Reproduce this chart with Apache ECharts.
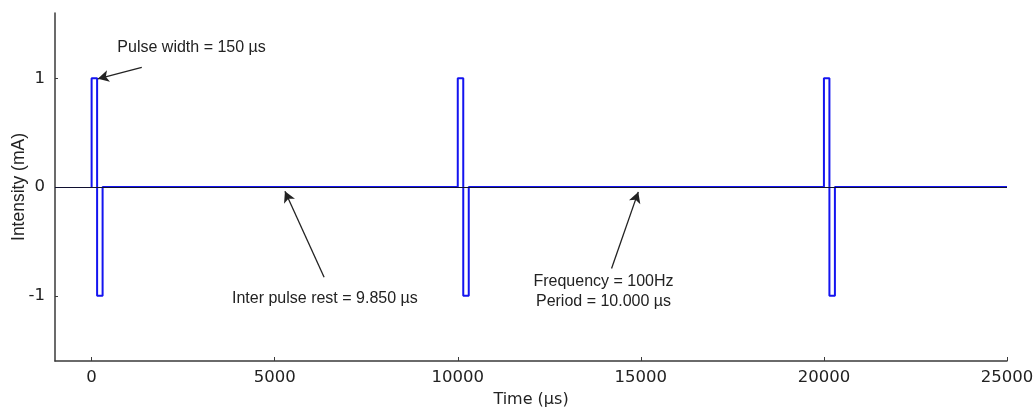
<!DOCTYPE html>
<html>
<head>
<meta charset="utf-8">
<script src="https://cdn.jsdelivr.net/npm/echarts@6/dist/echarts.min.js"></script>
<style>
  html, body { margin: 0; padding: 0; background: #fff; }
  #chart { width: 1035px; height: 409px; }
</style>
</head>
<body>
<div id="chart"></div>
<script>
// biphasic pulse train
var timeUs = [0, 0, 150, 150, 300, 300,
              10000, 10000, 10150, 10150, 10300, 10300,
              20000, 20000, 20150, 20150, 20300, 20300,
              25000];
var intensity = [0, 1, 1, -1, -1, 0,
                 0, 1, 1, -1, -1, 0,
                 0, 1, 1, -1, -1, 0,
                 0];
var xTicks = [0, 5000, 10000, 15000, 20000, 25000];
var yTicks = [-1, 0, 1];

// annotations: [text, x, y]  (data coords)
var notes = [
  ["Pulse width = 150 µs", 2730, 1.28],
  ["Inter pulse rest = 9.850 µs", 6370, -1.025],
  ["Frequency = 100Hz\nPeriod = 10.000 µs", 13980, -0.965]
];
// arrows: [fromX, fromY, toX, toY]
var arrows = [
  [1370, 1.1, 170, 0.995],
  [6350, -0.83, 5280, -0.04],
  [14200, -0.75, 14930, -0.045]
];

var chart = echarts.init(document.getElementById("chart"));

var points = timeUs.map(function (t, i) { return [t, intensity[i]]; });

var axisCol = "#3a3a3a";
var txtCol = "#222";

var option = {
  backgroundColor: "#fff",
  animation: false,
  grid: { left: 55, right: 28, top: 13, bottom: 48, outerBoundsMode: "none", containLabel: false },
  xAxis: {
    type: "value",
    min: -1000,
    max: 25000,
    name: "Time (µs)",
    nameLocation: "middle",
    nameGap: 31,
    nameMoveOverlap: false,
    nameTextStyle: { fontFamily: "DejaVu Sans", fontSize: 16, color: txtCol },
    axisLine: { show: true, onZero: false, lineStyle: { color: axisCol, width: 1.5 } },
    axisTick: {
      show: true, inside: true, length: 4,
      customValues: xTicks,
      lineStyle: { color: axisCol }
    },
    axisLabel: {
      customValues: xTicks,
      formatter: function (v) { return String(v); },
      fontFamily: "DejaVu Sans", fontSize: 16.5, color: txtCol, margin: 8
    },
    splitLine: { show: false }
  },
  yAxis: {
    type: "value",
    min: -1.6,
    max: 1.6,
    name: "Intensity (mA)",
    nameLocation: "middle",
    nameGap: 27,
    nameMoveOverlap: false,
    nameTextStyle: { fontFamily: "Liberation Sans", fontSize: 17.5, color: txtCol },
    axisLine: { show: true, onZero: false, lineStyle: { color: axisCol, width: 1.5 } },
    axisTick: {
      show: true, inside: true, length: 3,
      customValues: yTicks,
      lineStyle: { color: axisCol }
    },
    axisLabel: {
      customValues: yTicks,
      formatter: function (v) { return String(v); },
      fontFamily: "DejaVu Sans", fontSize: 16.5, color: txtCol, margin: 10
    },
    splitLine: { show: false }
  },
  series: [
    {
      type: "line",
      data: points,
      symbol: "none",
      lineStyle: { color: "#1414f0", width: 2 },
      z: 2,
      markLine: {
        silent: true,
        symbol: "none",
        label: { show: false },
        lineStyle: { color: "#101030", width: 1, type: "solid" },
        data: [{ yAxis: 0 }],
        z: 3
      }
    },
    {
      type: "line",
      data: [],
      z: 5,
      markLine: {
        silent: true,
        symbol: ["none", "arrow"],
        symbolSize: [9, 11],
        label: { show: false },
        lineStyle: { color: "#222", width: 1.3, type: "solid" },
        data: arrows.map(function (a) {
          return [{ coord: [a[0], a[1]] }, { coord: [a[2], a[3]] }];
        })
      },
      markPoint: {
        silent: true,
        symbol: "circle",
        symbolSize: 0,
        label: {
          show: true,
          position: "inside",
          fontFamily: "Liberation Sans",
          fontSize: 16,
          lineHeight: 20,
          color: txtCol,
          align: "center",
          formatter: function (p) { return p.name; }
        },
        data: notes.map(function (n) {
          return { name: n[0], coord: [n[1], n[2]] };
        })
      }
    }
  ]
};

chart.setOption(option);
</script>
</body>
</html>
